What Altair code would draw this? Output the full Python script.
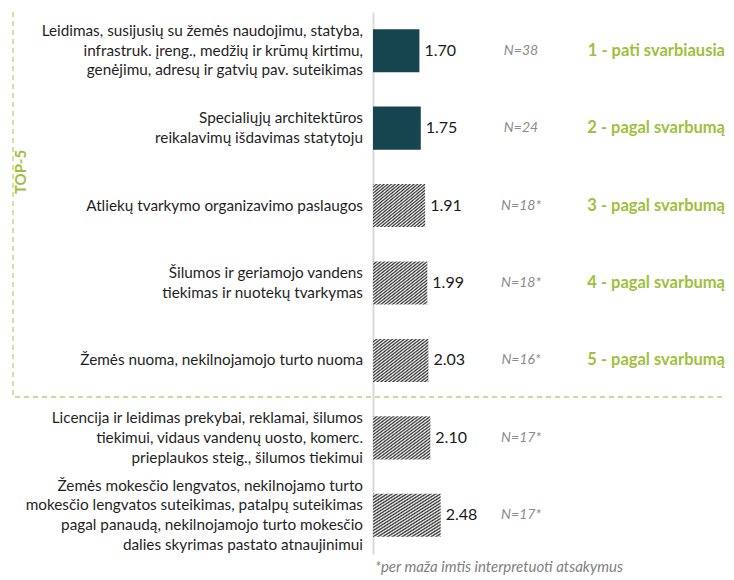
import altair as alt
import pandas as pd

# ---- data ----
categories = [
    "Leidimas, susijusių su žemės naudojimu, statyba,|infrastruk. įreng., medžių ir krūmų kirtimu,|genėjimu, adresų ir gatvių pav. suteikimas",
    "Specialiųjų architektūros|reikalavimų išdavimas statytoju",
    "Atliekų tvarkymo organizavimo paslaugos",
    "Šilumos ir geriamojo vandens|tiekimas ir nuotekų tvarkymas",
    "Žemės nuoma, nekilnojamojo turto nuoma",
    "Licencija ir leidimas prekybai, reklamai, šilumos|tiekimui, vidaus vandenų uosto, komerc.|prieplaukos steig., šilumos tiekimui",
    "Žemės mokesčio lengvatos, nekilnojamo turto|mokesčio lengvatos suteikimas, patalpų suteikimas|pagal panaudą, nekilnojamojo turto mokesčio|dalies skyrimas pastato atnaujinimui",
]
values = [1.70, 1.75, 1.91, 1.99, 2.03, 2.10, 2.48]
n_labels = ["N=38", "N=24", "N=18*", "N=18*", "N=16*", "N=17*", "N=17*"]
ranks = ["1 - pati svarbiausia", "2 - pagal svarbumą", "3 - pagal svarbumą",
         "4 - pagal svarbumą", "5 - pagal svarbumą", "", ""]
patterns = ["solid", "solid", "hatch", "hatch", "hatch", "hatch", "hatch"]
value_text = ["1.70", "1.75", "1.91", "1.99", "2.03", "2.10", "2.48"]
group_label = "TOP-5"
footnote = "*per maža imtis interpretuoti atsakymus"

df = pd.DataFrame({
    "label": categories,
    "value": values,
    "vtext": value_text,
    "n": n_labels,
    "rank": ranks,
    "pattern": patterns,
})

FONT = "Lato"
GREEN = "#9DC13B"
TEAL = "#16444F"
LINE_H = 19.7

# hatch fill built as a striped linear gradient (soft triangle profile to limit moire)
periods = 28
stops = []
for k in range(periods):
    stops += [
        {"offset": k / periods, "color": "#2A2A2A"},
        {"offset": (k + 0.5) / periods, "color": "#FFFFFF"},
    ]
stops.append({"offset": 1.0, "color": "#2A2A2A"})
hatch = {"gradient": "linear", "x1": 0, "y1": 0, "x2": 1, "y2": 1, "stops": stops}

W = 353
PX_PER_UNIT = 27.3
x_scale = alt.Scale(domain=[0, W / PX_PER_UNIT], nice=False, zero=True)
y_scale = alt.Scale(domain=categories, paddingInner=0.444, paddingOuter=0.222)

y_enc = alt.Y(
    "label:N",
    scale=y_scale,
    sort=categories,
    axis=alt.Axis(
        title=None,
        ticks=False,
        grid=False,
        labels=False,
        domainColor="#D9D9D9",
        domainWidth=2,
    ),
)
x_enc = alt.X("value:Q", scale=x_scale, axis=None)

base = alt.Chart(df)

solid = base.transform_filter("datum.pattern == 'solid'").mark_bar(color=TEAL).encode(x=x_enc, y=y_enc)
hatched = base.transform_filter("datum.pattern == 'hatch'").mark_bar(fill=hatch).encode(x=x_enc, y=y_enc)

# category labels as multi-line text, block centred on each band
label_layers = []
for n_lines in (1, 2, 3, 4):
    label_layers.append(
        base.transform_calculate(lines="split(datum.label, '|')")
        .transform_filter(f"length(datum.lines) == {n_lines}")
        .mark_text(align="right", baseline="middle", font=FONT, fontSize=15.3, color="#1F1F1F",
                   lineHeight=LINE_H, dy=-(n_lines - 1) * LINE_H / 2)
        .encode(x=alt.value(-10), y=y_enc, text="lines:N")
    )

vals = base.mark_text(align="left", baseline="middle", dx=5, font=FONT, fontSize=16, color="#1A1A1A").encode(
    x=x_enc, y=y_enc, text="vtext:N"
)
ns = base.mark_text(align="center", baseline="middle", font=FONT, fontSize=14, fontStyle="italic",
                    color="#8C8C8C").encode(x=alt.value(148), y=y_enc, text="n:N")
rk = base.mark_text(align="right", baseline="middle", font=FONT, fontSize=16.5, fontWeight="bold",
                    color=GREEN).encode(x=alt.value(352), y=y_enc, text="rank:N")

one = alt.Data(values=[{"t": group_label, "f": footnote}])
box = alt.Chart(one).mark_rect(fill="transparent", stroke=GREEN, strokeWidth=1.3, strokeDash=[5, 4],
                               strokeOpacity=0.7).encode(
    x=alt.value(-360), x2=alt.value(362), y=alt.value(-5), y2=alt.value(385)
)
top5 = alt.Chart(one).mark_text(angle=270, align="center", baseline="middle", font=FONT, fontSize=15,
                                fontWeight="bold", color=GREEN).encode(
    x=alt.value(-352), y=alt.value(160), text="t:N"
)
foot = alt.Chart(one).mark_text(align="center", baseline="middle", font=FONT, fontSize=15,
                                fontStyle="italic", color="#7F7F7F").encode(
    x=alt.value(126), y=alt.value(555), text="f:N"
)

chart = alt.layer(box, solid, hatched, *label_layers, vals, ns, rk, top5, foot).properties(
    width=W,
    height=542,
    autosize=alt.AutoSizeParams(type="none"),
    padding={"left": 365, "top": 4, "right": 0, "bottom": 26},
).configure_view(stroke=None)

chart.save("out.html", embed_options={"renderer": "svg", "actions": False})
